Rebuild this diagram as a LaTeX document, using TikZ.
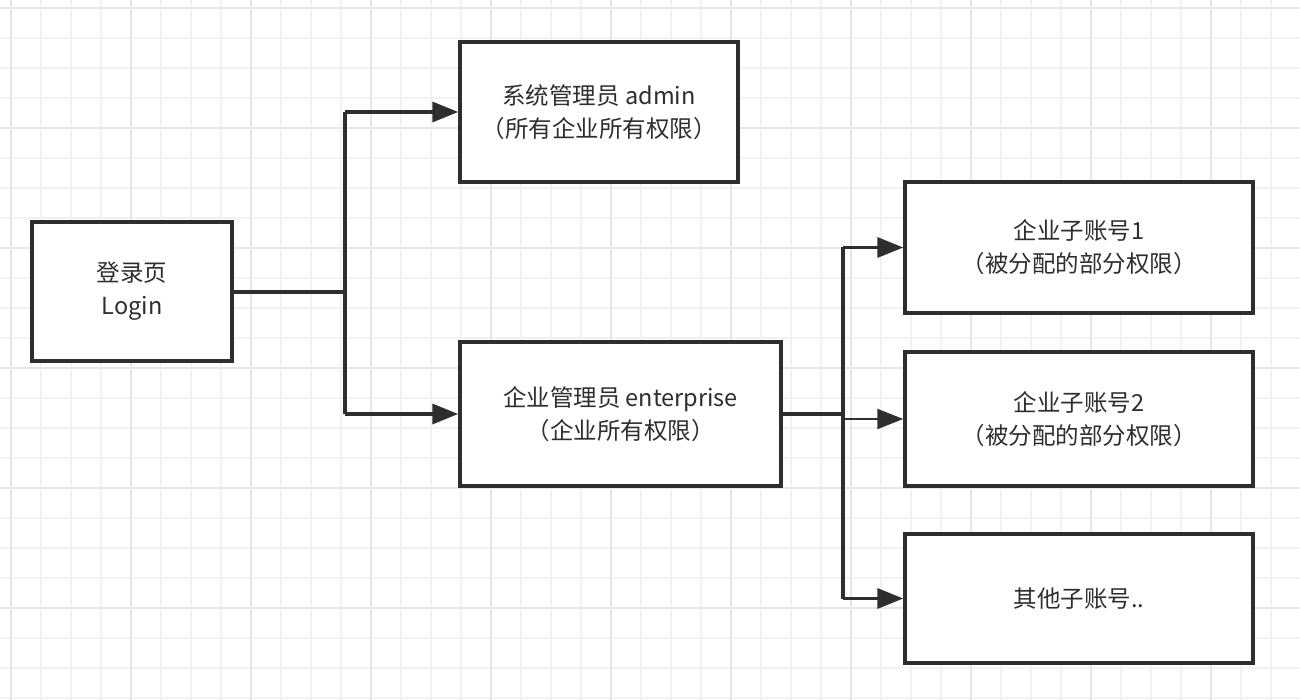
\documentclass[tikz,border=0pt]{standalone}
\usepackage{fontspec}
\setmainfont{Noto Sans CJK SC}
\usetikzlibrary{arrows.meta}
\definecolor{ink}{HTML}{2E2E2E}
\definecolor{gridminor}{HTML}{F2F2F2}
\definecolor{gridmajor}{HTML}{E6E6E6}
\tikzset{
  box/.style={draw=ink, line width=3.5pt, fill=white, align=center, text=ink,
    font=\fontsize{23.5}{33}\selectfont, inner sep=0pt},
  conn/.style={draw=ink, line width=3.5pt},
  arr/.style={draw=ink, line width=3.5pt, -{Triangle[length=26pt,width=20pt]}},
  thinarr/.style={draw=ink, line width=2.2pt, -{Triangle[length=26pt,width=20pt]}},
}
\begin{document}
\begin{tikzpicture}[x=1pt,y=-1pt]
\useasboundingbox (0,0) rectangle (1300,700);
\fill[white] (0,0) rectangle (1300,700);
% grid
\foreach \i in {0,...,43} {
  \pgfmathsetmacro{\xx}{11+30*\i}
  \draw[gridminor, line width=1.5pt] (\xx,0) -- (\xx,700);
}
\foreach \i in {0,...,23} {
  \pgfmathsetmacro{\yy}{8+30*\i}
  \draw[gridminor, line width=1.5pt] (0,\yy) -- (1300,\yy);
}
\foreach \i in {0,...,10} {
  \pgfmathsetmacro{\xx}{11+120*\i}
  \draw[gridmajor, line width=1.5pt] (\xx,0) -- (\xx,700);
}
\foreach \i in {0,...,5} {
  \pgfmathsetmacro{\yy}{8+120*\i}
  \draw[gridmajor, line width=1.5pt] (0,\yy) -- (1300,\yy);
}
% boxes
\node[box, minimum width=200pt, minimum height=139pt] (login) at (132,291.5) {登录页\\Login};
\node[box, minimum width=278pt, minimum height=140pt] (admin) at (599,112) {系统管理员 admin\\（所有企业所有权限）};
\node[box, minimum width=321pt, minimum height=144pt] (ent) at (620.5,414) {企业管理员 enterprise\\（企业所有权限）};
\node[box, minimum width=348pt, minimum height=131pt] (sub1) at (1079,247.5) {企业子账号1\\（被分配的部分权限）};
\node[box, minimum width=348pt, minimum height=134pt] (sub2) at (1079,419) {企业子账号2\\（被分配的部分权限）};
\node[box, minimum width=348pt, minimum height=129pt] (other) at (1079,598.5) {其他子账号..};
% junction coordinates
\coordinate (j1) at (345,292);
\coordinate (j2) at (843,414);
% connectors from login
\draw[conn] (login.east |- j1) -- (j1);
\draw[conn] (j1 |- admin.west) -- (j1 |- ent.west);
\draw[arr] (j1 |- admin.west) -- (admin.west);
\draw[arr] (j1 |- ent.west) -- (ent.west);
% connectors from enterprise
\draw[conn] (ent.east |- j2) -- (j2);
\draw[conn] (j2 |- sub1.west) -- (j2 |- other.west);
\draw[arr] (j2 |- sub1.west) -- (sub1.west);
\draw[thinarr] (j2 |- sub2.west) -- (sub2.west);
\draw[arr] (j2 |- other.west) -- (other.west);
\end{tikzpicture}
\end{document}
